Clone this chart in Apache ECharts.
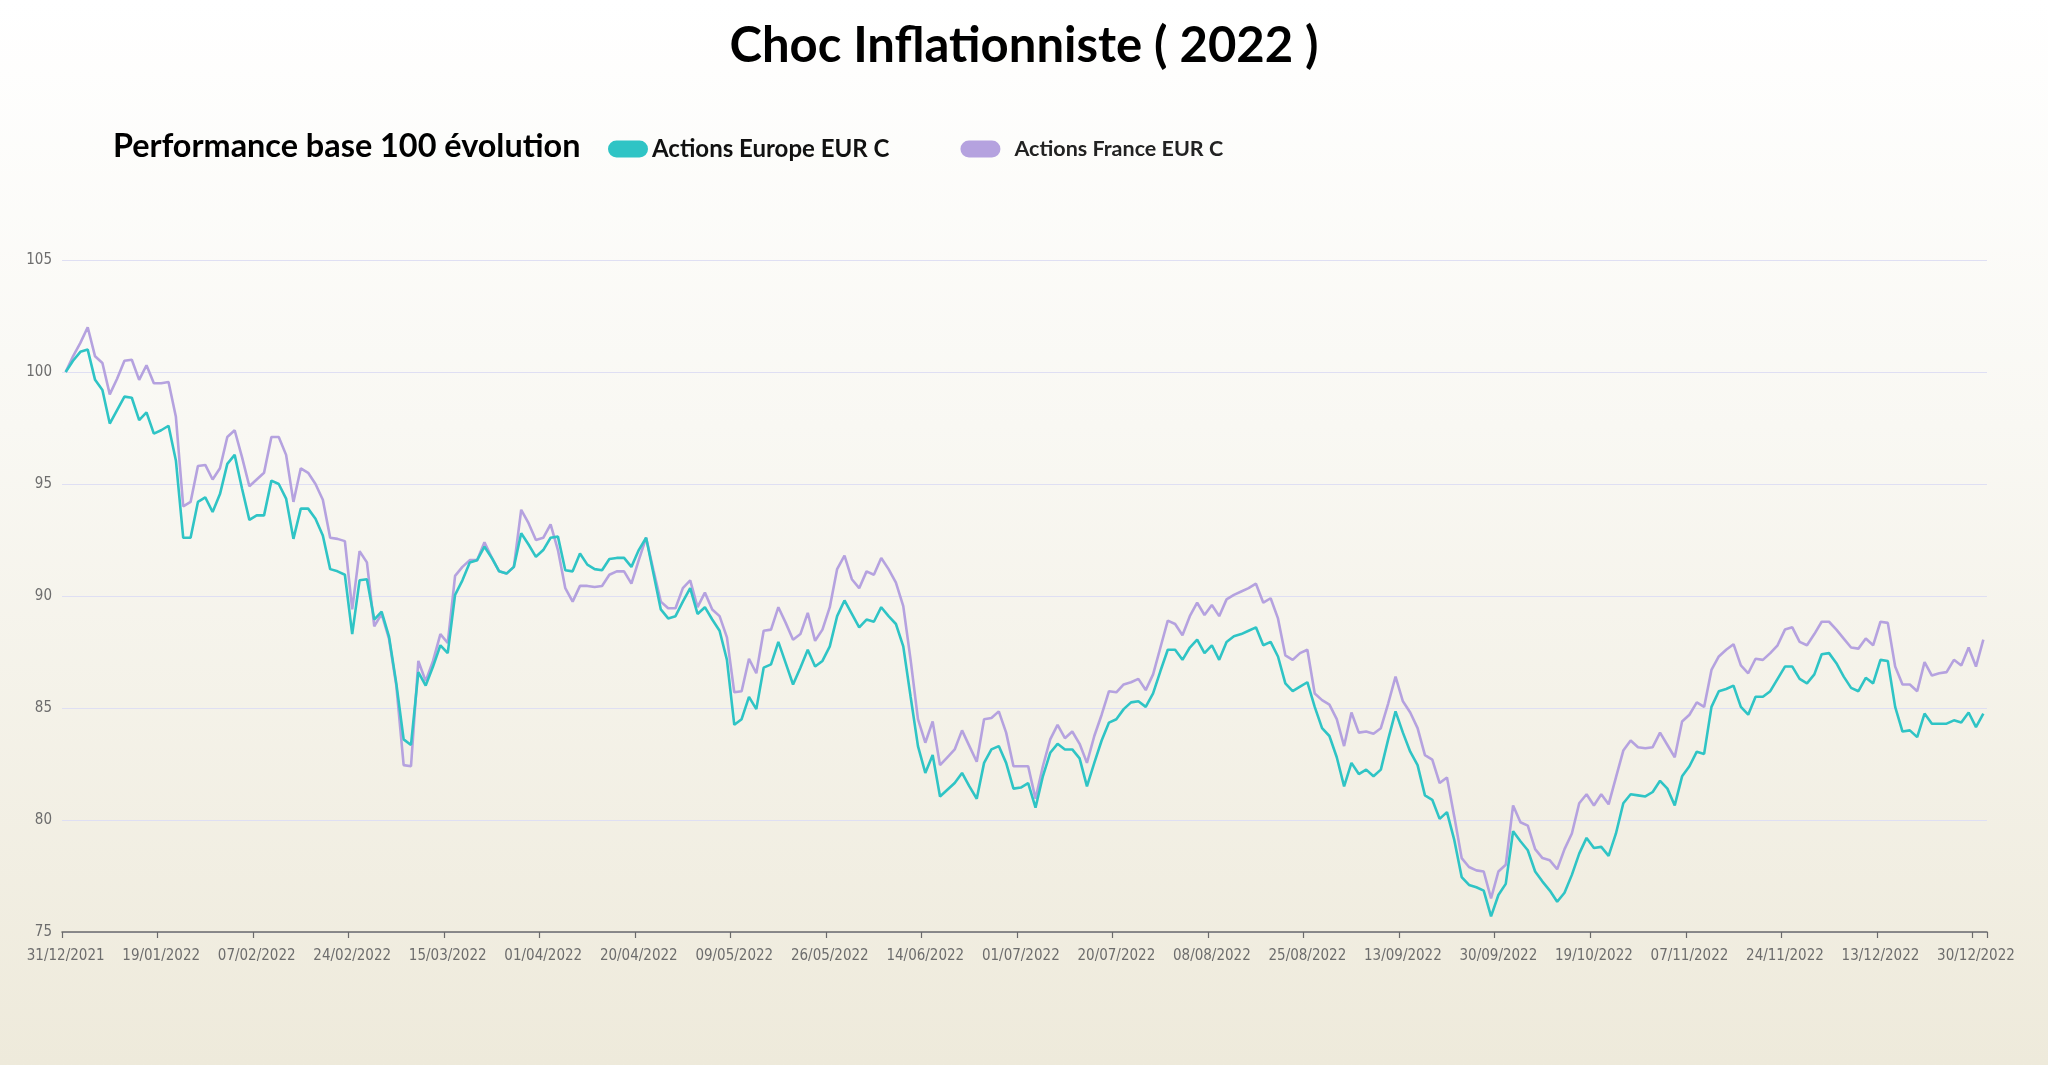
<!DOCTYPE html>
<html>
<head>
<meta charset="utf-8">
<script src="https://cdn.jsdelivr.net/npm/echarts@6/dist/echarts.min.js"></script>
<style>
html,body{margin:0;padding:0;width:2048px;height:1065px;overflow:hidden;}
#chart{width:2048px;height:1065px;}
</style>
</head>
<body>
<div id="chart"></div>
<script>
const titleText = 'Choc Inflationniste ( 2022 )';
const subtitleText = 'Performance base 100 évolution';
const seriesNames = ['Actions Europe EUR C', 'Actions France EUR C'];
const firstDate = '2021-12-31';
const yTicks = [75, 80, 85, 90, 95, 100, 105];

const europe = [
100,100.5,100.9,101.0,99.65,99.2,97.7,98.3,98.9,98.85,97.85,98.2,97.25,97.4,97.6,96.05,92.6,92.6,94.2,94.4,
93.75,94.55,95.9,96.3,94.8,93.4,93.6,93.6,95.15,95.0,94.35,92.55,93.9,93.9,93.45,92.7,91.2,91.1,90.95,88.3,
90.7,90.75,88.95,89.3,88.2,86.1,83.6,83.35,86.6,86.0,86.85,87.8,87.45,90.05,90.7,91.5,91.6,92.2,91.7,91.1,
91.0,91.3,92.8,92.3,91.75,92.05,92.6,92.65,91.15,91.1,91.9,91.4,91.2,91.15,91.65,91.7,91.7,91.3,92.05,92.6,
91.0,89.4,89.0,89.1,89.75,90.35,89.2,89.5,88.95,88.45,87.15,84.25,84.5,85.5,84.95,86.8,86.95,87.95,87.0,86.05,
86.8,87.6,86.85,87.1,87.75,89.1,89.8,89.2,88.6,88.95,88.85,89.5,89.1,88.75,87.75,85.5,83.3,82.1,82.9,81.05,
81.35,81.65,82.1,81.5,80.95,82.55,83.15,83.3,82.55,81.4,81.45,81.65,80.55,81.95,83.0,83.4,83.15,83.15,82.75,81.5,
82.55,83.55,84.35,84.5,84.95,85.25,85.3,85.05,85.65,86.65,87.6,87.6,87.15,87.7,88.05,87.45,87.8,87.15,87.95,88.2,
88.3,88.45,88.6,87.8,87.95,87.3,86.1,85.75,85.95,86.15,85.05,84.1,83.75,82.8,81.5,82.55,82.05,82.25,81.95,82.25,
83.6,84.85,83.9,83.05,82.45,81.1,80.9,80.05,80.35,79.1,77.45,77.1,77.0,76.85,75.7,76.65,77.15,79.5,79.05,78.65,
77.7,77.25,76.85,76.35,76.75,77.55,78.5,79.2,78.75,78.8,78.4,79.4,80.75,81.15,81.1,81.05,81.25,81.75,81.4,80.65,
81.95,82.4,83.05,82.95,85.05,85.75,85.85,86.0,85.05,84.7,85.5,85.5,85.75,86.3,86.85,86.85,86.3,86.1,86.5,87.4,
87.45,87.0,86.4,85.9,85.75,86.35,86.1,87.15,87.1,85.05,83.95,84.0,83.7,84.75,84.3,84.3,84.3,84.45,84.35,84.8,
84.15,84.75
];

const france = [
100,100.7,101.3,102.0,100.7,100.4,99.0,99.7,100.5,100.55,99.65,100.3,99.5,99.5,99.55,98.0,94.0,94.2,95.8,95.85,
95.2,95.7,97.1,97.4,96.2,94.9,95.2,95.5,97.1,97.1,96.3,94.2,95.7,95.5,95.0,94.3,92.6,92.55,92.45,89.4,
92.0,91.5,88.65,89.2,88.1,86.0,82.45,82.4,87.1,86.2,87.1,88.3,87.9,90.9,91.3,91.6,91.6,92.4,91.7,91.1,
91.0,91.3,93.85,93.25,92.5,92.6,93.2,92.05,90.35,89.75,90.45,90.45,90.4,90.45,90.95,91.1,91.1,90.55,91.6,92.6,
91.15,89.75,89.45,89.45,90.35,90.7,89.5,90.15,89.4,89.1,88.15,85.7,85.75,87.2,86.55,88.45,88.5,89.5,88.8,88.05,
88.3,89.25,88.0,88.5,89.5,91.2,91.8,90.75,90.35,91.1,90.95,91.7,91.2,90.6,89.55,87.15,84.5,83.45,84.4,82.45,
82.8,83.15,84.0,83.3,82.6,84.5,84.55,84.85,83.9,82.4,82.4,82.4,80.95,82.4,83.6,84.25,83.65,83.95,83.4,82.55,
83.75,84.7,85.75,85.7,86.05,86.15,86.3,85.8,86.5,87.7,88.9,88.75,88.25,89.1,89.7,89.15,89.6,89.1,89.85,90.05,
90.2,90.35,90.55,89.7,89.9,89.0,87.35,87.15,87.45,87.6,85.65,85.35,85.15,84.5,83.3,84.8,83.9,83.95,83.85,84.1,
85.2,86.4,85.3,84.8,84.1,82.9,82.7,81.65,81.9,80.15,78.3,77.9,77.75,77.7,76.5,77.7,78.0,80.65,79.9,79.75,
78.7,78.3,78.2,77.8,78.7,79.4,80.75,81.15,80.65,81.15,80.7,81.9,83.1,83.55,83.25,83.2,83.25,83.9,83.35,82.8,
84.4,84.7,85.25,85.05,86.7,87.3,87.6,87.85,86.9,86.55,87.2,87.15,87.45,87.8,88.5,88.6,87.95,87.8,88.3,88.85,
88.85,88.5,88.1,87.7,87.65,88.1,87.8,88.85,88.8,86.85,86.05,86.05,85.75,87.05,86.45,86.55,86.6,87.15,86.9,87.7,
86.85,88.05
];

// business-day categories starting at firstDate
function weekdayDates(start, n) {
  const out = [];
  const d = new Date(start + 'T12:00:00Z');
  while (out.length < n) {
    const wd = d.getUTCDay();
    if (wd !== 0 && wd !== 6) {
      const dd = String(d.getUTCDate()).padStart(2, '0');
      const mm = String(d.getUTCMonth() + 1).padStart(2, '0');
      out.push(dd + '/' + mm + '/' + d.getUTCFullYear());
    }
    d.setUTCDate(d.getUTCDate() + 1);
  }
  return out;
}
const categories = weekdayDates(firstDate, europe.length);

const colEurope = '#2fc4c5';
const colFrance = '#b5a2df';
const axisFont = '"DejaVu Sans Condensed", sans-serif';
const pill = 'path://M8.5,0H31.5A8.5,8.5,0,0,1,31.5,17H8.5A8.5,8.5,0,0,1,8.5,0Z';

const chart = echarts.init(document.getElementById('chart'), null, {renderer: 'canvas'});
chart.setOption({
  animation: false,
  backgroundColor: {
    type: 'linear', x: 0, y: 0, x2: 0, y2: 1,
    colorStops: [
      {offset: 0, color: '#ffffff'},
      {offset: 0.4, color: '#f9f8f3'},
      {offset: 1, color: '#eeeadb'}
    ]
  },
  title: [
    {
      text: titleText, left: 'center', top: 17,
      textStyle: {fontFamily: 'Lato', fontWeight: 'bold', fontSize: 49, color: '#000'}
    },
    {
      text: subtitleText, left: 108, top: 126,
      textStyle: {fontFamily: 'Lato', fontWeight: 'bold', fontSize: 32.4, color: '#000'}
    }
  ],
  legend: {
    left: 603, top: 132,
    itemWidth: 40, itemHeight: 17, itemGap: 71,
    icon: pill,
    data: [
      {name: seriesNames[0], textStyle: {fontSize: 24, fontWeight: 'bold', color: '#111', padding: [0, 0, 0, -1]}},
      {name: seriesNames[1], textStyle: {fontSize: 21.5, fontWeight: 'bold', color: '#222', padding: [0, 0, 0, 9]}}
    ],
    textStyle: {fontFamily: 'Lato'}
  },
  grid: {left: 62, right: 61, top: 260, bottom: 133, containLabel: false},
  xAxis: {
    type: 'category',
    data: categories,
    boundaryGap: true,
    axisLine: {show: true, lineStyle: {color: '#6a6a6a', width: 1.5}},
    axisTick: {show: true, interval: 12, length: 6, alignWithLabel: false, lineStyle: {color: '#6a6a6a', width: 1.2}},
    axisLabel: {interval: 12, margin: 17, color: '#6d6d6d', fontSize: 15, fontFamily: axisFont},
    splitLine: {show: false}
  },
  yAxis: {
    type: 'value',
    min: yTicks[0], max: yTicks[yTicks.length - 1], interval: yTicks[1] - yTicks[0],
    axisLine: {show: false},
    axisTick: {show: false},
    axisLabel: {margin: 10, color: '#6d6d6d', fontSize: 15, fontFamily: axisFont},
    splitLine: {show: true, lineStyle: {color: '#dfdff3', width: 1.2}}
  },
  series: [
    {
      name: seriesNames[0], type: 'line', data: europe, showSymbol: false, symbol: 'none',
      lineStyle: {color: colEurope, width: 2.6}, itemStyle: {color: colEurope}, z: 3
    },
    {
      name: seriesNames[1], type: 'line', data: france, showSymbol: false, symbol: 'none',
      lineStyle: {color: colFrance, width: 2.6}, itemStyle: {color: colFrance}, z: 2
    }
  ]
});
</script>
</body>
</html>
